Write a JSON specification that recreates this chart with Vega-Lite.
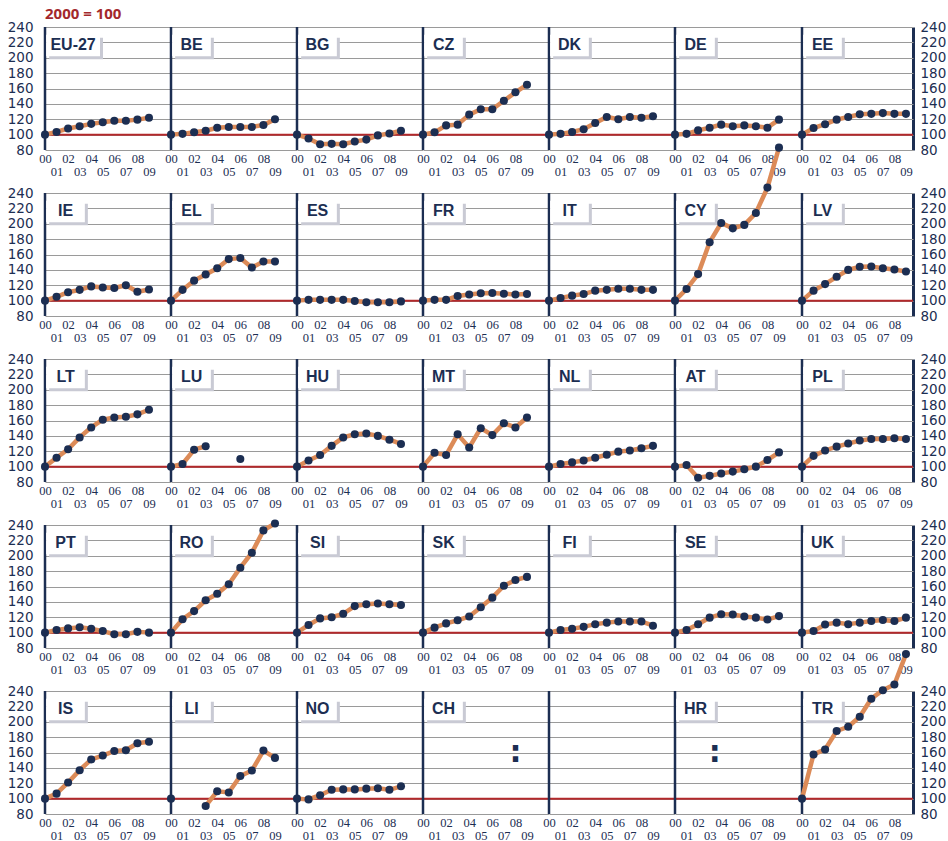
{
"$schema":"https://vega.github.io/schema/vega-lite/v6.json",
"padding":{"left":7,"top":7,"right":0,"bottom":0},
"background":"white",
"title":{"text":"2000 = 100","anchor":"start","frame":"group","font":"Open Sans","fontSize":15,"fontWeight":"bold","color":"#a3282c","offset":-2},
"data":{"values":[
{"c":"EU-27","y":2000,"v":100},{"c":"EU-27","y":2001,"v":103.5},{"c":"EU-27","y":2002,"v":108},{"c":"EU-27","y":2003,"v":111},{"c":"EU-27","y":2004,"v":114},{"c":"EU-27","y":2005,"v":116},{"c":"EU-27","y":2006,"v":118},{"c":"EU-27","y":2007,"v":118},{"c":"EU-27","y":2008,"v":119.5},{"c":"EU-27","y":2009,"v":122},
{"c":"BE","y":2000,"v":100},{"c":"BE","y":2001,"v":101},{"c":"BE","y":2002,"v":103},{"c":"BE","y":2003,"v":105},{"c":"BE","y":2004,"v":109},{"c":"BE","y":2005,"v":110},{"c":"BE","y":2006,"v":110},{"c":"BE","y":2007,"v":110},{"c":"BE","y":2008,"v":112.5},{"c":"BE","y":2009,"v":120},
{"c":"BG","y":2000,"v":100},{"c":"BG","y":2001,"v":95},{"c":"BG","y":2002,"v":87.5},{"c":"BG","y":2003,"v":88},{"c":"BG","y":2004,"v":87.5},{"c":"BG","y":2005,"v":91},{"c":"BG","y":2006,"v":93.5},{"c":"BG","y":2007,"v":99},{"c":"BG","y":2008,"v":101.5},{"c":"BG","y":2009,"v":105},
{"c":"CZ","y":2000,"v":100},{"c":"CZ","y":2001,"v":103},{"c":"CZ","y":2002,"v":112},{"c":"CZ","y":2003,"v":113},{"c":"CZ","y":2004,"v":126},{"c":"CZ","y":2005,"v":133},{"c":"CZ","y":2006,"v":133},{"c":"CZ","y":2007,"v":144},{"c":"CZ","y":2008,"v":155},{"c":"CZ","y":2009,"v":165},
{"c":"DK","y":2000,"v":100},{"c":"DK","y":2001,"v":101},{"c":"DK","y":2002,"v":103.5},{"c":"DK","y":2003,"v":107},{"c":"DK","y":2004,"v":115},{"c":"DK","y":2005,"v":123},{"c":"DK","y":2006,"v":120},{"c":"DK","y":2007,"v":123},{"c":"DK","y":2008,"v":122},{"c":"DK","y":2009,"v":124},
{"c":"DE","y":2000,"v":100},{"c":"DE","y":2001,"v":101},{"c":"DE","y":2002,"v":105.5},{"c":"DE","y":2003,"v":109},{"c":"DE","y":2004,"v":113},{"c":"DE","y":2005,"v":111},{"c":"DE","y":2006,"v":112},{"c":"DE","y":2007,"v":111},{"c":"DE","y":2008,"v":109},{"c":"DE","y":2009,"v":119.5},
{"c":"EE","y":2000,"v":100},{"c":"EE","y":2001,"v":108.5},{"c":"EE","y":2002,"v":113.5},{"c":"EE","y":2003,"v":119.5},{"c":"EE","y":2004,"v":123},{"c":"EE","y":2005,"v":126.5},{"c":"EE","y":2006,"v":127},{"c":"EE","y":2007,"v":128},{"c":"EE","y":2008,"v":127},{"c":"EE","y":2009,"v":127},
{"c":"IE","y":2000,"v":100},{"c":"IE","y":2001,"v":105},{"c":"IE","y":2002,"v":111},{"c":"IE","y":2003,"v":114},{"c":"IE","y":2004,"v":118.5},{"c":"IE","y":2005,"v":117},{"c":"IE","y":2006,"v":116.5},{"c":"IE","y":2007,"v":120},{"c":"IE","y":2008,"v":111.5},{"c":"IE","y":2009,"v":114.5},
{"c":"EL","y":2000,"v":100},{"c":"EL","y":2001,"v":114},{"c":"EL","y":2002,"v":126},{"c":"EL","y":2003,"v":134},{"c":"EL","y":2004,"v":142},{"c":"EL","y":2005,"v":154},{"c":"EL","y":2006,"v":155.5},{"c":"EL","y":2007,"v":143},{"c":"EL","y":2008,"v":151},{"c":"EL","y":2009,"v":151},
{"c":"ES","y":2000,"v":100},{"c":"ES","y":2001,"v":101},{"c":"ES","y":2002,"v":101},{"c":"ES","y":2003,"v":101},{"c":"ES","y":2004,"v":101},{"c":"ES","y":2005,"v":99.5},{"c":"ES","y":2006,"v":98},{"c":"ES","y":2007,"v":98},{"c":"ES","y":2008,"v":98},{"c":"ES","y":2009,"v":99},
{"c":"FR","y":2000,"v":100},{"c":"FR","y":2001,"v":101},{"c":"FR","y":2002,"v":101},{"c":"FR","y":2003,"v":106},{"c":"FR","y":2004,"v":108},{"c":"FR","y":2005,"v":109.5},{"c":"FR","y":2006,"v":110},{"c":"FR","y":2007,"v":109},{"c":"FR","y":2008,"v":108},{"c":"FR","y":2009,"v":108.5},
{"c":"IT","y":2000,"v":100},{"c":"IT","y":2001,"v":103.5},{"c":"IT","y":2002,"v":106.5},{"c":"IT","y":2003,"v":108.5},{"c":"IT","y":2004,"v":113},{"c":"IT","y":2005,"v":114},{"c":"IT","y":2006,"v":115.5},{"c":"IT","y":2007,"v":115.5},{"c":"IT","y":2008,"v":114},{"c":"IT","y":2009,"v":114},
{"c":"CY","y":2000,"v":100},{"c":"CY","y":2001,"v":115},{"c":"CY","y":2002,"v":134.5},{"c":"CY","y":2003,"v":176},{"c":"CY","y":2004,"v":201},{"c":"CY","y":2005,"v":194},{"c":"CY","y":2006,"v":198.5},{"c":"CY","y":2007,"v":214},{"c":"CY","y":2008,"v":247},{"c":"CY","y":2009,"v":299},
{"c":"LV","y":2000,"v":100},{"c":"LV","y":2001,"v":113},{"c":"LV","y":2002,"v":121.5},{"c":"LV","y":2003,"v":131},{"c":"LV","y":2004,"v":140},{"c":"LV","y":2005,"v":144},{"c":"LV","y":2006,"v":144.5},{"c":"LV","y":2007,"v":142},{"c":"LV","y":2008,"v":140.5},{"c":"LV","y":2009,"v":138},
{"c":"LT","y":2000,"v":100},{"c":"LT","y":2001,"v":111.5},{"c":"LT","y":2002,"v":122.5},{"c":"LT","y":2003,"v":138},{"c":"LT","y":2004,"v":151},{"c":"LT","y":2005,"v":161},{"c":"LT","y":2006,"v":164},{"c":"LT","y":2007,"v":165},{"c":"LT","y":2008,"v":168},{"c":"LT","y":2009,"v":174},
{"c":"LU","y":2000,"v":100},{"c":"LU","y":2001,"v":103.5},{"c":"LU","y":2002,"v":122},{"c":"LU","y":2003,"v":126.5},{"c":"LU","y":2004,"v":null},{"c":"LU","y":2005,"v":null},{"c":"LU","y":2006,"v":110},{"c":"LU","y":2007,"v":null},{"c":"LU","y":2008,"v":null},{"c":"LU","y":2009,"v":null},
{"c":"HU","y":2000,"v":100},{"c":"HU","y":2001,"v":108},{"c":"HU","y":2002,"v":115},{"c":"HU","y":2003,"v":127},{"c":"HU","y":2004,"v":138},{"c":"HU","y":2005,"v":142},{"c":"HU","y":2006,"v":143},{"c":"HU","y":2007,"v":140},{"c":"HU","y":2008,"v":135},{"c":"HU","y":2009,"v":129.5},
{"c":"MT","y":2000,"v":100},{"c":"MT","y":2001,"v":118},{"c":"MT","y":2002,"v":115},{"c":"MT","y":2003,"v":142},{"c":"MT","y":2004,"v":125},{"c":"MT","y":2005,"v":150},{"c":"MT","y":2006,"v":141},{"c":"MT","y":2007,"v":156.5},{"c":"MT","y":2008,"v":151},{"c":"MT","y":2009,"v":164},
{"c":"NL","y":2000,"v":100},{"c":"NL","y":2001,"v":103.5},{"c":"NL","y":2002,"v":105.5},{"c":"NL","y":2003,"v":108},{"c":"NL","y":2004,"v":111.5},{"c":"NL","y":2005,"v":115.5},{"c":"NL","y":2006,"v":119.5},{"c":"NL","y":2007,"v":121},{"c":"NL","y":2008,"v":124},{"c":"NL","y":2009,"v":127},
{"c":"AT","y":2000,"v":100},{"c":"AT","y":2001,"v":102},{"c":"AT","y":2002,"v":85.5},{"c":"AT","y":2003,"v":88},{"c":"AT","y":2004,"v":91},{"c":"AT","y":2005,"v":93.5},{"c":"AT","y":2006,"v":96.5},{"c":"AT","y":2007,"v":100},{"c":"AT","y":2008,"v":108.5},{"c":"AT","y":2009,"v":118.5},
{"c":"PL","y":2000,"v":100},{"c":"PL","y":2001,"v":114},{"c":"PL","y":2002,"v":121},{"c":"PL","y":2003,"v":126},{"c":"PL","y":2004,"v":130},{"c":"PL","y":2005,"v":134},{"c":"PL","y":2006,"v":136},{"c":"PL","y":2007,"v":136},{"c":"PL","y":2008,"v":137},{"c":"PL","y":2009,"v":136},
{"c":"PT","y":2000,"v":100},{"c":"PT","y":2001,"v":103.5},{"c":"PT","y":2002,"v":105.5},{"c":"PT","y":2003,"v":107},{"c":"PT","y":2004,"v":105},{"c":"PT","y":2005,"v":102},{"c":"PT","y":2006,"v":98},{"c":"PT","y":2007,"v":98},{"c":"PT","y":2008,"v":101},{"c":"PT","y":2009,"v":100},
{"c":"RO","y":2000,"v":100},{"c":"RO","y":2001,"v":117.5},{"c":"RO","y":2002,"v":128},{"c":"RO","y":2003,"v":142},{"c":"RO","y":2004,"v":150.5},{"c":"RO","y":2005,"v":163},{"c":"RO","y":2006,"v":184.5},{"c":"RO","y":2007,"v":204},{"c":"RO","y":2008,"v":233},{"c":"RO","y":2009,"v":242},
{"c":"SI","y":2000,"v":100},{"c":"SI","y":2001,"v":110},{"c":"SI","y":2002,"v":118.5},{"c":"SI","y":2003,"v":120},{"c":"SI","y":2004,"v":124.5},{"c":"SI","y":2005,"v":134.5},{"c":"SI","y":2006,"v":137},{"c":"SI","y":2007,"v":138},{"c":"SI","y":2008,"v":137},{"c":"SI","y":2009,"v":136},
{"c":"SK","y":2000,"v":100},{"c":"SK","y":2001,"v":106.5},{"c":"SK","y":2002,"v":112},{"c":"SK","y":2003,"v":116},{"c":"SK","y":2004,"v":121},{"c":"SK","y":2005,"v":133},{"c":"SK","y":2006,"v":145.5},{"c":"SK","y":2007,"v":161},{"c":"SK","y":2008,"v":168.5},{"c":"SK","y":2009,"v":172.5},
{"c":"FI","y":2000,"v":100},{"c":"FI","y":2001,"v":103.5},{"c":"FI","y":2002,"v":105},{"c":"FI","y":2003,"v":107.5},{"c":"FI","y":2004,"v":111},{"c":"FI","y":2005,"v":113},{"c":"FI","y":2006,"v":114.5},{"c":"FI","y":2007,"v":114.5},{"c":"FI","y":2008,"v":114.5},{"c":"FI","y":2009,"v":109},
{"c":"SE","y":2000,"v":100},{"c":"SE","y":2001,"v":103.5},{"c":"SE","y":2002,"v":111},{"c":"SE","y":2003,"v":119.5},{"c":"SE","y":2004,"v":124},{"c":"SE","y":2005,"v":123.5},{"c":"SE","y":2006,"v":121},{"c":"SE","y":2007,"v":119.5},{"c":"SE","y":2008,"v":117},{"c":"SE","y":2009,"v":121.5},
{"c":"UK","y":2000,"v":100},{"c":"UK","y":2001,"v":102},{"c":"UK","y":2002,"v":110.5},{"c":"UK","y":2003,"v":113},{"c":"UK","y":2004,"v":111},{"c":"UK","y":2005,"v":113},{"c":"UK","y":2006,"v":115},{"c":"UK","y":2007,"v":116.5},{"c":"UK","y":2008,"v":115},{"c":"UK","y":2009,"v":119.5},
{"c":"IS","y":2000,"v":100},{"c":"IS","y":2001,"v":106.5},{"c":"IS","y":2002,"v":121},{"c":"IS","y":2003,"v":137},{"c":"IS","y":2004,"v":151},{"c":"IS","y":2005,"v":156},{"c":"IS","y":2006,"v":162},{"c":"IS","y":2007,"v":163},{"c":"IS","y":2008,"v":172},{"c":"IS","y":2009,"v":174},
{"c":"LI","y":2000,"v":100},{"c":"LI","y":2001,"v":null},{"c":"LI","y":2002,"v":null},{"c":"LI","y":2003,"v":90.5},{"c":"LI","y":2004,"v":109.5},{"c":"LI","y":2005,"v":108},{"c":"LI","y":2006,"v":129.5},{"c":"LI","y":2007,"v":136.5},{"c":"LI","y":2008,"v":162.5},{"c":"LI","y":2009,"v":153},
{"c":"NO","y":2000,"v":100},{"c":"NO","y":2001,"v":99},{"c":"NO","y":2002,"v":104.5},{"c":"NO","y":2003,"v":111.5},{"c":"NO","y":2004,"v":112},{"c":"NO","y":2005,"v":112},{"c":"NO","y":2006,"v":113},{"c":"NO","y":2007,"v":113.5},{"c":"NO","y":2008,"v":111.5},{"c":"NO","y":2009,"v":116},
{"c":"CH","y":2000,"v":null},{"c":"CH","y":2008,"na":158},
{"c":"none","y":2000,"v":null},
{"c":"HR","y":2000,"v":null},{"c":"HR","y":2003.45,"na":158},
{"c":"TR","y":2000,"v":100},{"c":"TR","y":2001,"v":157.5},{"c":"TR","y":2002,"v":164},{"c":"TR","y":2003,"v":188},{"c":"TR","y":2004,"v":193.5},{"c":"TR","y":2005,"v":206.5},{"c":"TR","y":2006,"v":230},{"c":"TR","y":2007,"v":241},{"c":"TR","y":2008,"v":248.5},{"c":"TR","y":2009,"v":288}
]},
"spacing":-15,
"hconcat":[
 {"transform":[{"filter":{"field":"c","oneOf":["EU-27","BE","BG","CZ","DK","DE","IE","EL","ES","FR","IT","CY","LT","LU","HU","MT","NL","AT","PT","RO","SI","SK","FI","SE","IS","LI","NO","CH","none","HR"]}}],
  "facet":{"field":"c","type":"nominal","sort":["EU-27","BE","BG","CZ","DK","DE","IE","EL","ES","FR","IT","CY","LT","LU","HU","MT","NL","AT","PT","RO","SI","SK","FI","SE","IS","LI","NO","CH","none","HR"],"header":{"labels":false,"title":null,"labelExpr":"''","labelFontSize":1,"labelColor":"transparent","labelPadding":0}},
  "columns":6,
  "spacing":{"row":43,"column":0},
  "bounds":"flush",
  "resolve":{"axis":{"x":"independent"}},
  "spec":{"width":125.7,"height":123,"layer":[
   {"transform":[{"filter":"datum.y == 2000"}],"mark":{"type":"rule","color":"#b3282b","strokeWidth":2},"encoding":{"y":{"datum":100,"scale":{"domain":[80,240]}}}},
   {"transform":[{"filter":"datum.y == 2000"}],"mark":{"type":"rule","color":"#1c2e52","strokeWidth":2.5},"encoding":{"x":{"datum":2000,"scale":{"domain":[2000,2010.88]}}}},
   {"transform":[{"filter":"datum.y == 2000 && datum.c != 'none' && datum.c != 'EU-27'"}],"layer":[
     {"mark":{"type":"rect","color":"#c9cad4"},"encoding":{"x":{"datum":2000.36,"scale":{"domain":[2000,2010.88]}},"x2":{"datum":2003.71},"y":{"datum":198,"scale":{"domain":[80,240]}},"y2":{"datum":226}}},
     {"mark":{"type":"rect","color":"#ffffff"},"encoding":{"x":{"datum":2000.1,"scale":{"domain":[2000,2010.88]}},"x2":{"datum":2003.45},"y":{"datum":202,"scale":{"domain":[80,240]}},"y2":{"datum":230}}},
     {"mark":{"type":"text","font":"Liberation Sans","fontSize":16,"fontWeight":"bold","color":"#1c2e52","align":"center","baseline":"middle"},"encoding":{"x":{"datum":2001.78,"scale":{"domain":[2000,2010.88]}},"y":{"datum":216,"scale":{"domain":[80,240]}},"text":{"field":"c"}}}
   ]},
   {"transform":[{"filter":"datum.y == 2000 && datum.c == 'EU-27'"}],"layer":[
     {"mark":{"type":"rect","color":"#c9cad4"},"encoding":{"x":{"datum":2000.36,"scale":{"domain":[2000,2010.88]}},"x2":{"datum":2005.02},"y":{"datum":198,"scale":{"domain":[80,240]}},"y2":{"datum":226}}},
     {"mark":{"type":"rect","color":"#ffffff"},"encoding":{"x":{"datum":2000.1,"scale":{"domain":[2000,2010.88]}},"x2":{"datum":2004.76},"y":{"datum":202,"scale":{"domain":[80,240]}},"y2":{"datum":230}}},
     {"mark":{"type":"text","font":"Liberation Sans","fontSize":16,"fontWeight":"bold","color":"#1c2e52","align":"center","baseline":"middle"},"encoding":{"x":{"datum":2002.43,"scale":{"domain":[2000,2010.88]}},"y":{"datum":216,"scale":{"domain":[80,240]}},"text":{"field":"c"}}}
   ]},
   {"mark":{"type":"line","color":"#dc8b58","strokeWidth":4.5,"invalid":"break-paths-filter-domains"},"encoding":{"x":{"field":"y","type":"quantitative","title":null,"scale":{"domain":[2000,2010.88],"nice":false,"zero":false},"axis":{"values":[2000,2001,2002,2003,2004,2005,2006,2007,2008,2009],"tickCount":30,"labelOverlap":false,"grid":false,"labelExpr":"datum.value % 2 == 1 ? ['', '0' + (datum.value - 2000)] : '0' + (datum.value - 2000)"}},"y":{"field":"v","type":"quantitative","title":null,"scale":{"domain":[80,240],"nice":false,"zero":false},"axis":{"values":[80,100,120,140,160,180,200,220,240],"tickCount":30,"labelOverlap":false,"grid":true}}}},
   {"mark":{"type":"circle","size":65,"color":"#1c2e52","opacity":1},"encoding":{"x":{"field":"y","type":"quantitative","title":null,"scale":{"domain":[2000,2010.88]}},"y":{"field":"v","type":"quantitative","title":null,"scale":{"domain":[80,240]}}}},
   {"transform":[{"filter":"isValid(datum.na)"}],"mark":{"type":"text","text":":","font":"DejaVu Sans","fontSize":30,"fontWeight":"bold","color":"#1c2e52","align":"center","baseline":"alphabetic","dy":8},"encoding":{"x":{"field":"y","type":"quantitative","title":null,"scale":{"domain":[2000,2010.88]}},"y":{"field":"na","type":"quantitative","title":null,"scale":{"domain":[80,240]}}}}
  ]}},
 {"transform":[{"filter":{"field":"c","oneOf":["EE","LV","PL","UK","TR"]}}],
  "facet":{"field":"c","type":"nominal","sort":["EE","LV","PL","UK","TR"],"header":{"labels":false,"title":null,"labelExpr":"''","labelFontSize":1,"labelColor":"transparent","labelPadding":0}},
  "columns":1,
  "spacing":{"row":43,"column":0},
  "bounds":"flush",
  "resolve":{"axis":{"x":"independent"}},
  "spec":{"width":111,"height":123,"layer":[
   {"transform":[{"filter":"datum.y == 2000"}],"mark":{"type":"rule","color":"#b3282b","strokeWidth":2},"encoding":{"y":{"datum":100,"scale":{"domain":[80,240]}}}},
   {"transform":[{"filter":"datum.y == 2000"}],"mark":{"type":"rule","color":"#1c2e52","strokeWidth":2.5},"encoding":{"x":{"datum":2000,"scale":{"domain":[2000,2009.61]}}}},
   {"transform":[{"filter":"datum.y == 2000"}],"layer":[
     {"mark":{"type":"rect","color":"#c9cad4"},"encoding":{"x":{"datum":2000.36,"scale":{"domain":[2000,2009.61]}},"x2":{"datum":2003.71},"y":{"datum":198,"scale":{"domain":[80,240]}},"y2":{"datum":226}}},
     {"mark":{"type":"rect","color":"#ffffff"},"encoding":{"x":{"datum":2000.1,"scale":{"domain":[2000,2009.61]}},"x2":{"datum":2003.45},"y":{"datum":202,"scale":{"domain":[80,240]}},"y2":{"datum":230}}},
     {"mark":{"type":"text","font":"Liberation Sans","fontSize":16,"fontWeight":"bold","color":"#1c2e52","align":"center","baseline":"middle"},"encoding":{"x":{"datum":2001.78,"scale":{"domain":[2000,2009.61]}},"y":{"datum":216,"scale":{"domain":[80,240]}},"text":{"field":"c"}}}
   ]},
   {"mark":{"type":"line","color":"#dc8b58","strokeWidth":4.5,"invalid":"break-paths-filter-domains"},"encoding":{"x":{"field":"y","type":"quantitative","title":null,"scale":{"domain":[2000,2009.61],"nice":false,"zero":false},"axis":{"values":[2000,2001,2002,2003,2004,2005,2006,2007,2008,2009],"tickCount":30,"labelOverlap":false,"grid":false,"labelExpr":"datum.value % 2 == 1 ? ['', '0' + (datum.value - 2000)] : '0' + (datum.value - 2000)"}},"y":{"field":"v","type":"quantitative","title":null,"scale":{"domain":[80,240],"nice":false,"zero":false},"axis":{"values":[80,100,120,140,160,180,200,220,240],"tickCount":30,"labelOverlap":false,"grid":true,"orient":"right","domain":true,"domainColor":"#1c2e52","domainWidth":3,"labelPadding":7}}}},
   {"mark":{"type":"circle","size":65,"color":"#1c2e52","opacity":1},"encoding":{"x":{"field":"y","type":"quantitative","title":null,"scale":{"domain":[2000,2009.61]}},"y":{"field":"v","type":"quantitative","title":null,"scale":{"domain":[80,240]}}}}
  ]}}
],
"config":{
 "view":{"stroke":null},
 "header":{"labels":false,"title":null,"labelExpr":"''","labelFontSize":1,"labelColor":"transparent","labelPadding":0},
 "headerFacet":{"labels":false,"title":null,"labelExpr":"''","labelFontSize":1,"labelColor":"transparent","labelPadding":0},
 "axis":{"domain":false,"ticks":false,"labelColor":"#1c2e52"},
 "axisX":{"grid":false,"labelFont":"Liberation Sans Narrow","labelFontSize":12.5,"labelPadding":2,"labelFlush":false,"labelOverlap":false,"labelBound":false,"labelBaseline":"top","labelLineHeight":13},
 "axisY":{"grid":true,"gridColor":"#9a9a9a","gridWidth":1,"labelFont":"DejaVu Sans","labelFontSize":13.5,"labelPadding":12,"labelOverlap":false,"labelFlush":false}
}
}
